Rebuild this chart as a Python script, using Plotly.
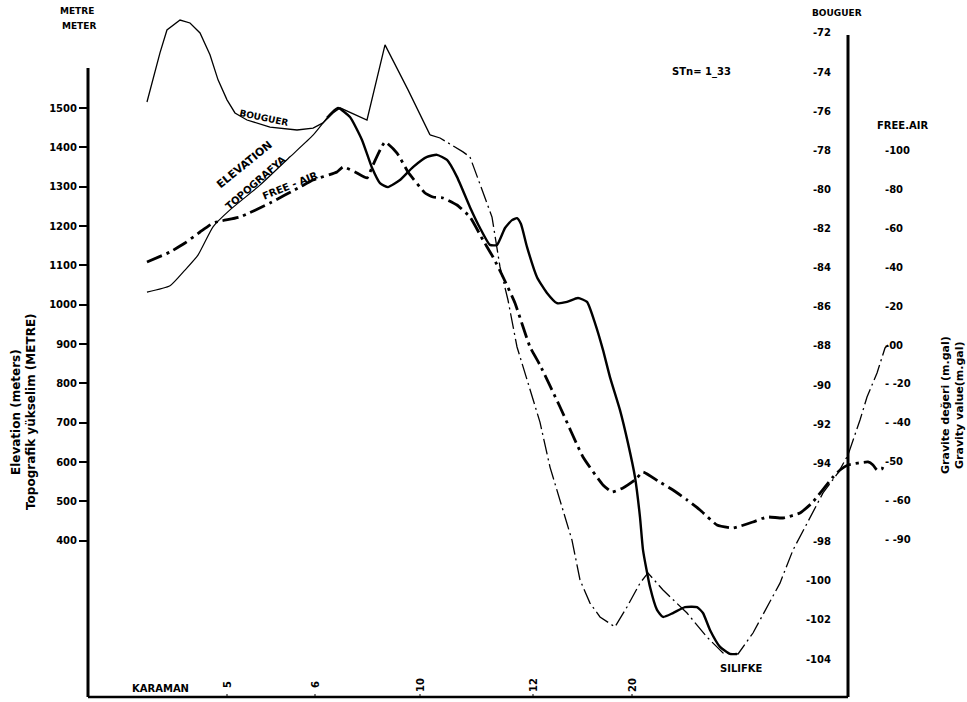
import plotly.graph_objects as go

# ---------------------------------------------------------------
# Profile Karaman - Silifke : topography, Bouguer and free-air
# ---------------------------------------------------------------

# profile position (0 = Karaman end of the section, 100 = right frame)
elev_x = [7.76, 10.79, 12.76, 14.47, 16.45, 18.68, 22.63, 26.58, 29.61, 31.45,
          32.89, 34.47, 36.05, 37.37, 38.42, 39.47, 41.05, 42.76, 44.61, 45.92,
          47.24, 48.55, 50.26, 51.58, 52.89, 53.82, 54.87, 55.79, 56.45, 56.97,
          57.76, 59.08, 60.39, 61.71, 63.03, 64.47, 65.66, 66.71, 67.76, 68.68,
          70.00, 71.05, 71.97, 72.63, 73.03, 73.95, 74.87, 75.66, 76.97, 78.55,
          80.13, 80.92, 81.84, 83.16, 84.47, 85.39]
# elevation, metres
elevation = [1032, 1048, 1088, 1126, 1198, 1241, 1304, 1376, 1431, 1475,
             1500, 1477, 1419, 1348, 1309, 1299, 1317, 1350, 1376, 1381,
             1368, 1325, 1248, 1195, 1152, 1152, 1195, 1215, 1220, 1205,
             1147, 1070, 1030, 1004, 1007, 1017, 1007, 953, 885, 816,
             732, 648, 562, 460, 376, 282, 224, 206, 216, 231,
             231, 216, 173, 130, 112, 112]
ELEV_THIN_END = 10  # left part of the topography is drawn with a fine pen

bouguer_x = [7.76, 8.55, 9.47, 10.39, 12.11, 13.42, 14.74, 16.05, 17.11, 18.29,
             19.34, 20.92, 23.95, 27.50, 29.61, 30.92, 32.24, 33.16, 33.82, 35.26,
             36.71, 39.08, 42.11, 45.00, 46.32, 49.34, 50.26, 51.71, 53.16, 54.21,
             55.26, 56.45, 59.47, 60.79, 61.84, 62.76, 63.68, 64.74, 66.05, 67.37,
             69.34, 70.92, 72.63, 73.68, 75.66, 78.82, 81.45, 83.55, 85.53, 87.50,
             89.34, 91.05, 92.76, 95.00, 96.71, 98.68, 100.00, 101.58, 102.50, 103.82,
             104.87, 105.26]
# Bouguer anomaly, mgal
bouguer = [-75.53, -74.40, -73.02, -71.85, -71.34, -71.49, -72.00, -73.12, -74.40, -75.42,
           -76.09, -76.45, -76.81, -76.96, -76.86, -76.60, -76.09, -75.83, -75.94, -76.19,
           -76.45, -72.61, -74.91, -77.21, -77.37, -78.08, -78.34, -79.87, -81.41, -83.96,
           -85.65, -88.05, -91.89, -94.19, -95.51, -96.74, -97.92, -99.96, -101.14, -101.85,
           -102.36, -101.34, -100.12, -99.60, -100.47, -101.65, -102.88, -103.69, -103.74, -102.67,
           -101.34, -100.12, -98.43, -96.74, -95.51, -94.49, -93.57, -91.78, -90.61, -89.38,
           -88.10, -87.95]
BOUGUER_SOLID_END = 24  # solid pen up to here, dash-dot afterwards

freeair_x = [7.76, 10.79, 12.76, 14.74, 16.45, 20.00, 23.95, 27.89, 29.61, 32.76,
             33.55, 35.13, 36.71, 37.50, 39.08, 40.66, 42.11, 44.34, 45.39, 46.71,
             48.55, 50.26, 51.97, 53.29, 54.61, 56.18, 58.16, 59.47, 62.11, 65.13,
             67.76, 68.95, 70.39, 71.97, 73.03, 75.00, 76.97, 78.82, 80.53, 82.76,
             84.87, 87.50, 89.34, 91.45, 93.68, 95.26, 98.03, 98.95, 100.00, 102.63,
             103.29, 103.82, 104.47, 104.74]
# free-air anomaly, mgal
freeair = [42.67, 47.81, 52.44, 58.10, 62.72, 65.81, 73.01, 81.23, 84.83, 88.95,
           91.52, 88.95, 85.86, 92.54, 104.37, 98.71, 88.95, 78.15, 76.09, 75.58,
           71.98, 65.81, 53.98, 45.24, 34.96, 21.59, -1.03, -10.28, -31.88, -57.58,
           -71.98, -75.58, -73.52, -69.41, -65.30, -69.92, -74.55, -79.69, -84.83, -92.54,
           -94.09, -91.00, -88.43, -88.95, -86.38, -81.23, -67.87, -64.27, -61.70, -60.15,
           -61.70, -64.27, -63.75, -60.67]

# axis ticks
elev_ticks = [1500, 1400, 1300, 1200, 1100, 1000, 900, 800, 700, 600, 500, 400]
bouguer_ticks = [-72, -74, -76, -78, -80, -82, -84, -86, -88, -90, -92, -94,
                 -98, -100, -102, -104]
bouguer_ticktext = ["-72", "-74", "-76", "-78", "-80", "-82", "-84", "-86", "-88",
                    "-90", "-92", "-94", "-98", "-100", "-102", "-104"]
freeair_ticks = [100, 80, 60, 40, 20, 0, -20, -40, -60, -80, -100]
freeair_ticktext = ["-100", "-80", "-60", "-40", "-20", "-00", "- -20", "- -40",
                    "-50", "- -60", "- -90"]

stations = ["5", "6", "10", "12", "20"]
station_px = [227, 315, 420, 533, 632]

# ---------------------------------------------------------------
W, H = 967, 702
L, R, T, B = 88, 0, 12, 5
PW, PH = W - L - R, H - T - B
FRAME_RIGHT = 848                       # right frame line (Bouguer scale)
X_RANGE = [0, 100 * PW / (FRAME_RIGHT - L)]

FONT = "DejaVu Sans, Liberation Sans, Arial"
INK = "black"


def px(x):
    return (x - L) / PW


def py(y):
    return (H - B - y) / PH


fig = go.Figure()

# topography: fine pen first, then heavy pen
fig.add_trace(go.Scatter(
    x=elev_x[:ELEV_THIN_END], y=elevation[:ELEV_THIN_END], mode="lines",
    line=dict(color=INK, width=1.2, shape="spline", smoothing=0.5),
    yaxis="y", hoverinfo="skip"))
fig.add_trace(go.Scatter(
    x=elev_x[ELEV_THIN_END - 1:], y=elevation[ELEV_THIN_END - 1:], mode="lines",
    line=dict(color=INK, width=2.4, shape="spline", smoothing=0.5),
    yaxis="y", hoverinfo="skip"))

# Bouguer anomaly
fig.add_trace(go.Scatter(
    x=bouguer_x[:BOUGUER_SOLID_END], y=bouguer[:BOUGUER_SOLID_END], mode="lines",
    line=dict(color=INK, width=1.3),
    yaxis="y2", hoverinfo="skip"))
fig.add_trace(go.Scatter(
    x=bouguer_x[BOUGUER_SOLID_END - 1:], y=bouguer[BOUGUER_SOLID_END - 1:], mode="lines",
    line=dict(color=INK, width=1.3, dash="16px,4px,2px,4px"),
    yaxis="y2", hoverinfo="skip"))

# free-air anomaly
fig.add_trace(go.Scatter(
    x=freeair_x, y=freeair, mode="lines",
    line=dict(color=INK, width=2.8, dash="16px,5px,3px,5px",
              shape="spline", smoothing=0.4),
    yaxis="y3", hoverinfo="skip"))

tickfont = dict(family=FONT, size=10, color=INK, weight="bold")

fig.update_layout(
    width=W, height=H,
    margin=dict(l=L, r=R, t=T, b=B, autoexpand=False),
    paper_bgcolor="white", plot_bgcolor="white",
    showlegend=False, hovermode=False,
    xaxis=dict(range=X_RANGE, domain=[0, 1], visible=False, fixedrange=True),
    yaxis=dict(range=[2.5, 1744.2], tickvals=elev_ticks,
               ticks="outside", ticklen=8, tickwidth=1.5, tickcolor=INK,
               showline=False, showgrid=False, zeroline=False,
               tickfont=tickfont, automargin=False),
    yaxis2=dict(range=[-105.94, -70.93], overlaying="y", anchor="free",
                position=px(FRAME_RIGHT), side="left",
                tickvals=bouguer_ticks, ticktext=bouguer_ticktext,
                ticks="outside", ticklen=15, tickcolor="rgba(0,0,0,0)",
                showline=False, showgrid=False, zeroline=False,
                tickfont=tickfont, automargin=False),
    yaxis3=dict(range=[-180.98, 171.21], overlaying="y", anchor="free",
                position=px(884), side="right",
                tickvals=freeair_ticks, ticktext=freeair_ticktext,
                ticks="", showline=False, showgrid=False, zeroline=False,
                tickfont=tickfont, automargin=False),
)

# frame: elevation scale, Bouguer scale and base line
frame = [
    (L, 68, L, 697, 3),
    (FRAME_RIGHT, 35, FRAME_RIGHT, 697, 3),
    (L, 697, FRAME_RIGHT, 697, 2.5),
]
for x0, y0, x1, y1, w in frame:
    fig.add_shape(type="line", xref="paper", yref="paper",
                  x0=px(x0), y0=py(y0), x1=px(x1), y1=py(y1),
                  line=dict(color=INK, width=w))

# small ticks on the base line at the stations
for sx in station_px:
    fig.add_shape(type="line", xref="paper", yref="paper",
                  x0=px(sx), y0=py(697), x1=px(sx), y1=py(694),
                  line=dict(color=INK, width=1))


def label(text, x, y, size=10, angle=0):
    fig.add_annotation(text=text, x=px(x), y=py(y), xref="paper", yref="paper",
                       showarrow=False, textangle=angle,
                       xanchor="center", yanchor="middle",
                       font=dict(family=FONT, size=size, color=INK, weight="bold"))


label("METRE", 77, 11, 9)
label("METER", 79, 26, 9)
label("BOUGUER", 837, 13, 9)
label("FREE.AIR", 902, 125, 10)
label("STn= 1_33", 701, 72, 10)

# curve names written along the lines
label("BOUGUER", 264, 118, 9, 12)
label("ELEVATION", 245, 165, 11, -39)
label("TOPOGRAFYA", 256, 183, 10, -41)
label("FREE - AIR", 290, 186, 10, -22)

label("SILIFKE", 741, 668, 10)
label("KARAMAN", 160, 688, 10)
for s, sx in zip(stations, station_px):
    label(s, sx, 685, 10, -90)

# axis titles
label("Elevation (meters)", 16, 412, 12, -90)
label("Topografik yükselim (METRE)", 31, 412, 12, -90)
label("Gravite değeri (m.gal)", 945, 405, 11, -90)
label("Gravity value(m.gal)", 959, 405, 11, -90)

fig.write_html("out.html")
